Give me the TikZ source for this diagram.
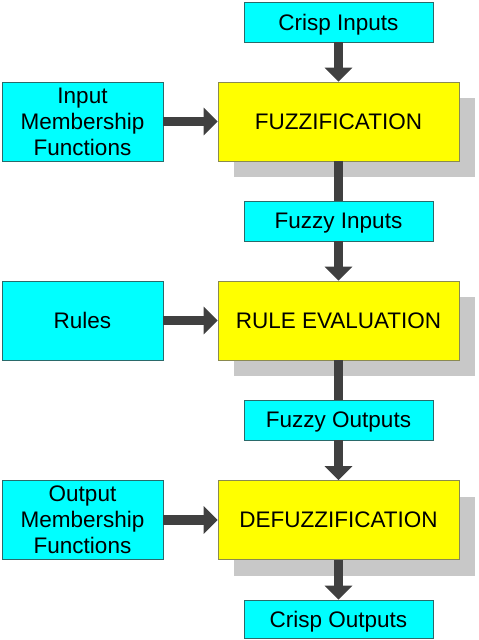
\documentclass[tikz,border=0pt]{standalone}
\usepackage{fontspec}
\setmainfont{Liberation Sans}
\usetikzlibrary{arrows.meta,shadows}
\definecolor{boxcyan}{HTML}{00FFFF}
\definecolor{cyanline}{HTML}{2A6A6A}
\definecolor{boxyellow}{HTML}{FFFF00}
\definecolor{yellowline}{HTML}{8A8A50}
\definecolor{shadegray}{HTML}{C8C8C8}
\definecolor{arrowgray}{HTML}{404040}
\tikzset{
  every node/.style={font=\fontsize{22.5}{26}\selectfont, inner sep=0pt, align=center},
  oneline/.style={text depth=0pt},
  smallbox/.style={oneline, draw=cyanline, line width=0.8pt, fill=boxcyan, minimum width=189pt, minimum height=40pt},
  sidebox/.style={draw=cyanline, line width=0.8pt, fill=boxcyan, minimum width=161pt, minimum height=79pt},
  procbox/.style={oneline, draw=yellowline, line width=0.8pt, fill=boxyellow, minimum width=241pt, minimum height=79pt,
    general shadow={fill=shadegray, shadow xshift=16pt, shadow yshift=-16pt}},
  conn/.style={draw=arrowgray, line width=9.5pt, -{Triangle[width=27pt,length=14pt,fill=arrowgray]}},
  plainconn/.style={draw=arrowgray, line width=9.5pt}
}
\begin{document}
\begin{tikzpicture}[x=1pt,y=-1pt]
\useasboundingbox (0,0) rectangle (479,640);
% process boxes
\node[procbox] (fz) at (338.5,121.5) {FUZZIFICATION};
\node[procbox] (re) at (338.5,320.5) {RULE EVALUATION};
\node[procbox] (de) at (338.5,520) {DEFUZZIFICATION};
% small boxes
\node[smallbox] (ci) at (338.5,22) {Crisp Inputs};
\node[smallbox] (fi) at (338.5,221) {Fuzzy Inputs};
\node[smallbox] (fo) at (338.5,420) {Fuzzy Outputs};
\node[smallbox, minimum height=38pt] (co) at (338.5,619) {Crisp Outputs};
% side boxes
\node[sidebox] (imf) at (82.5,121.5) {Input\\Membership\\Functions};
\node[sidebox, oneline] (rules) at (82.5,320.5) {Rules};
\node[sidebox] (omf) at (82.5,520) {Output\\Membership\\Functions};
% connectors
\draw[conn] (ci.south) -- (fz.north);
\draw[plainconn] (fz.south) -- (fi.north);
\draw[conn] (fi.south) -- (re.north);
\draw[plainconn] (re.south) -- (fo.north);
\draw[conn] (fo.south) -- (de.north);
\draw[conn] (de.south) -- (co.north);
\draw[conn] (imf.east) -- (fz.west);
\draw[conn] (rules.east) -- (re.west);
\draw[conn] (omf.east) -- (de.west);
\end{tikzpicture}
\end{document}
